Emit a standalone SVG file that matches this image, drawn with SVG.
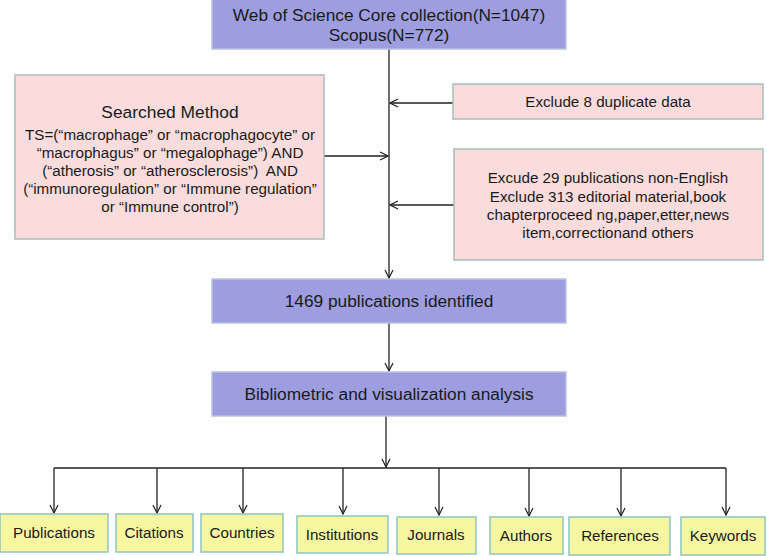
<svg xmlns="http://www.w3.org/2000/svg" width="767" height="556" viewBox="0 0 767 556">
<style>
text{font-family:"Liberation Sans",Arial,sans-serif;fill:#1a1a1a;text-anchor:middle}
.blue{fill:#9d9de0;stroke:#b8c4de;stroke-width:1.5}
.pink{fill:#fbdcdc;stroke:#a9bcbc;stroke-width:1.5}
.yel{fill:#f7f7a1;stroke:#8fc4c0;stroke-width:1.5}
.ln{stroke:#222;stroke-width:1.3;fill:none}
.t16{font-size:17.3px}
.t15{font-size:15.2px}
</style>
<defs>
<marker id="ah" viewBox="0 0 10 10" refX="9" refY="5" markerWidth="10" markerHeight="10" markerUnits="userSpaceOnUse" orient="auto">
<path d="M1,1 L9,5 L1,9" fill="none" stroke="#222" stroke-width="1.2"/>
</marker>
</defs>
<rect width="767" height="556" fill="#fff"/>
<g id="connectors">
<line class="ln" x1="389" y1="49" x2="389" y2="278" marker-end="url(#ah)"/>
<line class="ln" x1="453" y1="103" x2="390" y2="103" marker-end="url(#ah)"/>
<line class="ln" x1="454" y1="205" x2="390" y2="205" marker-end="url(#ah)"/>
<line class="ln" x1="324" y1="156" x2="388" y2="156" marker-end="url(#ah)"/>
<line class="ln" x1="389" y1="323" x2="389" y2="371" marker-end="url(#ah)"/>
<line class="ln" x1="386" y1="416" x2="386" y2="467" marker-end="url(#ah)"/>
<line class="ln" x1="54" y1="468" x2="726" y2="468"/>
<line class="ln" x1="54" y1="468" x2="54" y2="513" marker-end="url(#ah)"/>
<line class="ln" x1="157" y1="468" x2="157" y2="513" marker-end="url(#ah)"/>
<line class="ln" x1="243" y1="468" x2="243" y2="513" marker-end="url(#ah)"/>
<line class="ln" x1="343" y1="468" x2="343" y2="514" marker-end="url(#ah)"/>
<line class="ln" x1="439" y1="468" x2="439" y2="515" marker-end="url(#ah)"/>
<line class="ln" x1="529" y1="468" x2="529" y2="516" marker-end="url(#ah)"/>
<line class="ln" x1="621" y1="468" x2="621" y2="516" marker-end="url(#ah)"/>
<line class="ln" x1="726" y1="468" x2="726" y2="515" marker-end="url(#ah)"/>
</g>
<g id="source">
<rect class="blue" x="212" y="-1" width="354" height="50"/>
<text class="t16" x="389" y="21">Web of Science Core collection(N=1047)</text>
<text class="t16" x="389" y="41">Scopus(N=772)</text>
</g>
<g id="search">
<rect class="pink" x="15" y="75" width="309" height="164"/>
<text x="170" y="118" font-size="17.4px">Searched Method</text>
<text class="t15" x="170" y="140">TS=(“macrophage” or “macrophagocyte” or</text>
<text class="t15" x="170" y="158">“macrophagus” or “megalophage”) AND</text>
<text class="t15" x="170" y="176" xml:space="preserve" style="white-space:pre">(“atherosis” or “atherosclerosis”)  AND</text>
<text class="t15" x="170" y="194">(“immunoregulation” or “Immune regulation”</text>
<text class="t15" x="170" y="212">or “Immune control”)</text>
</g>
<g id="exclude1">
<rect class="pink" x="453" y="84" width="310" height="35"/>
<text class="t15" x="608" y="107">Exclude 8 duplicate data</text>
</g>
<g id="exclude2">
<rect class="pink" x="454" y="149" width="309" height="111"/>
<text class="t15" x="608" y="183">Excude 29 publications non-English</text>
<text class="t15" x="608" y="202">Exclude 313 editorial material,book</text>
<text class="t15" x="608" y="220">chapterproceed ng,paper,etter,news</text>
<text class="t15" x="608" y="238">item,correctionand others</text>
</g>
<g id="identified">
<rect class="blue" x="212" y="279" width="354" height="44"/>
<text class="t16" x="389" y="307">1469 publications identified</text>
</g>
<g id="analysis">
<rect class="blue" x="212" y="372" width="354" height="44"/>
<text class="t16" x="389" y="400">Bibliometric and visualization analysis</text>
</g>
<g id="publications"><rect class="yel" x="0" y="514" width="108" height="38"/><text class="t15" x="54" y="538">Publications</text></g>
<g id="citations"><rect class="yel" x="116" y="514" width="77" height="38"/><text class="t15" x="154" y="538">Citations</text></g>
<g id="countries"><rect class="yel" x="201" y="514" width="82" height="38"/><text class="t15" x="242" y="538">Countries</text></g>
<g id="institutions"><rect class="yel" x="297" y="516" width="91" height="37"/><text class="t15" x="342" y="540">Institutions</text></g>
<g id="journals"><rect class="yel" x="397" y="517" width="79" height="37"/><text class="t15" x="436" y="540">Journals</text></g>
<g id="authors"><rect class="yel" x="490" y="517" width="73" height="37"/><text class="t15" x="526" y="541">Authors</text></g>
<g id="references"><rect class="yel" x="569" y="517" width="101" height="38"/><text class="t15" x="620" y="541">References</text></g>
<g id="keywords"><rect class="yel" x="681" y="517" width="84" height="38"/><text class="t15" x="723" y="541">Keywords</text></g>
</svg>
